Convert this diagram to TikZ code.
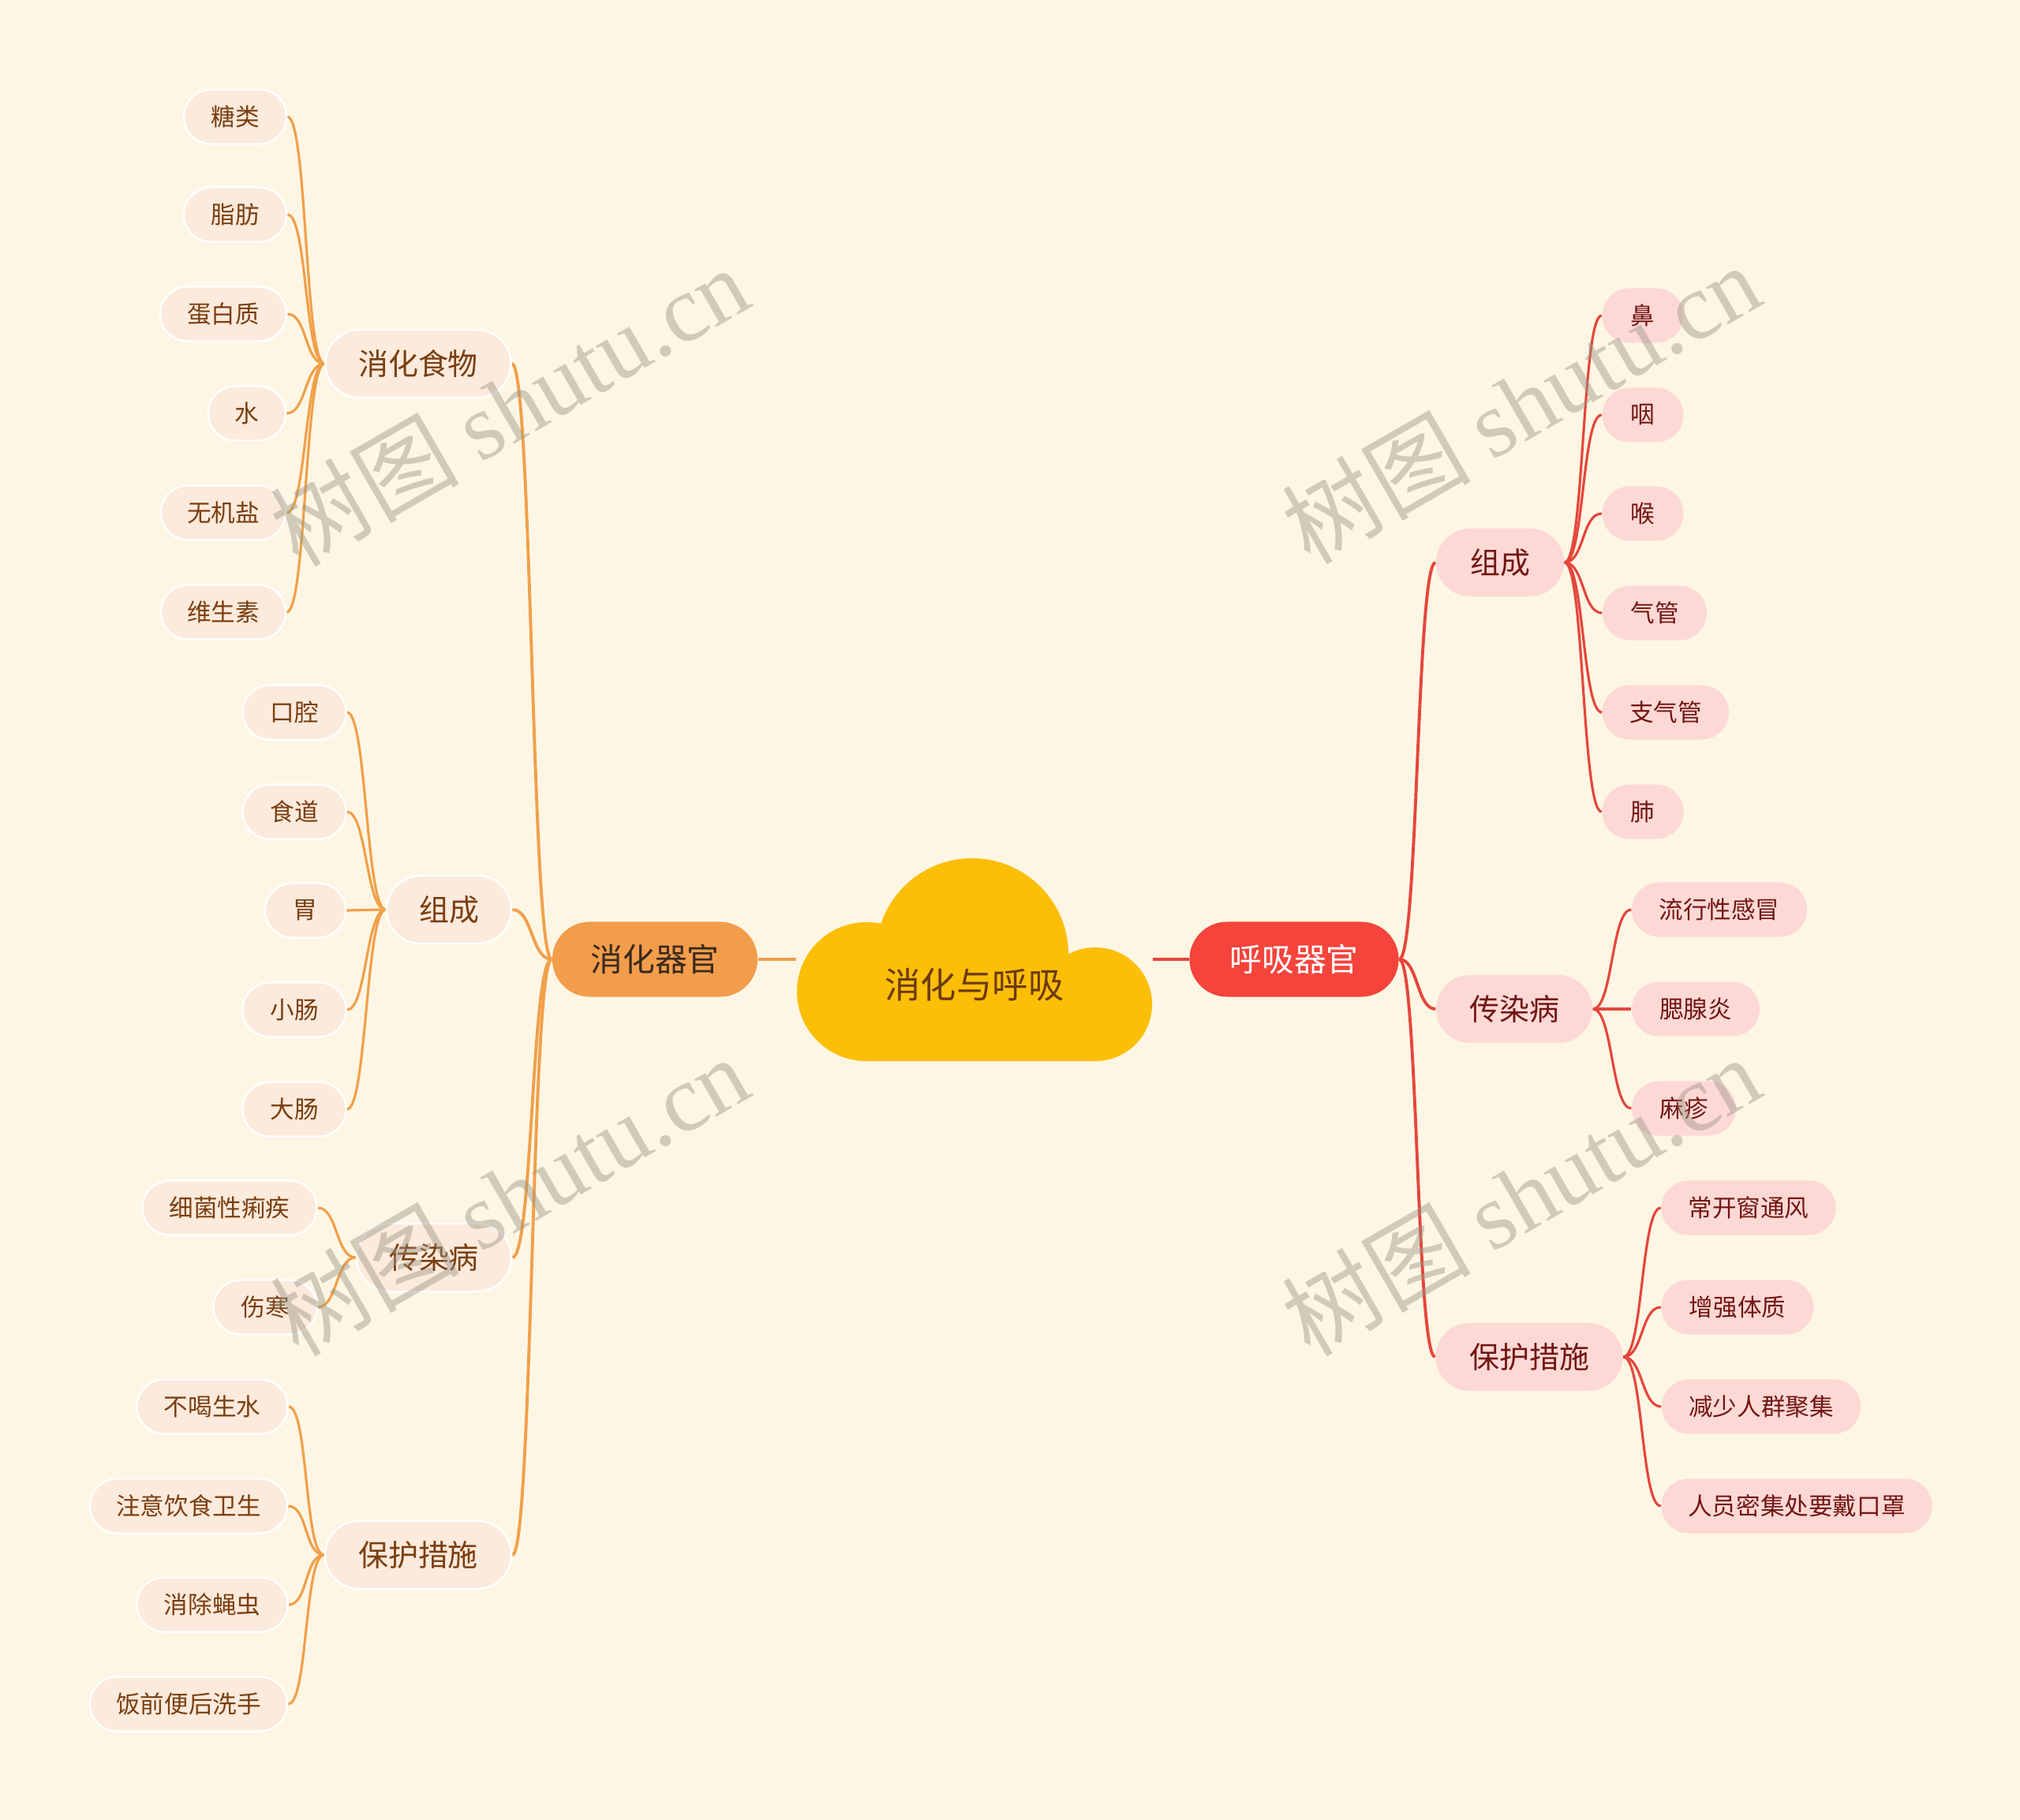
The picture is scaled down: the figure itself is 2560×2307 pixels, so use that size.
\documentclass[tikz,border=0pt]{standalone}
\usepackage{fontspec}
\setmainfont{Noto Sans CJK SC}
\newfontfamily\wmlatin{Liberation Serif}
\definecolor{bgc}{HTML}{FEF6E4}
\definecolor{cloudc}{HTML}{FCBE07}
\definecolor{roottxt}{HTML}{6B3A10}
\definecolor{corange}{HTML}{F0A04A}
\definecolor{cred}{HTML}{E5463C}
\definecolor{l1orange}{HTML}{F29D4C}
\definecolor{l1red}{HTML}{F4443B}
\definecolor{peach}{HTML}{FCEADC}
\definecolor{pinkf}{HTML}{FDD9D6}
\definecolor{brownt}{HTML}{7A3E10}
\definecolor{redt}{HTML}{721612}
\definecolor{darkt}{HTML}{3A2A1C}
\definecolor{wmc}{HTML}{9A9584}
\pgfdeclarelayer{bg}
\pgfsetlayers{bg,main}
\newcommand\leftcon[2]{\draw[ocon] (#1.west) .. controls +(-25,0) and +(25,0) .. (#2.east);}
\newcommand\rightcon[2]{\draw[rcon] (#1.east) .. controls +(25,0) and +(-25,0) .. (#2.west);}
\begin{document}
\begin{tikzpicture}[x=0.01cm,y=-0.01cm,
  lbox/.style={rectangle, inner sep=0pt, fill=peach, draw=white, line width=0.7pt, text=brownt},
  rbox/.style={rectangle, inner sep=0pt, fill=pinkf, draw=none, text=redt},
  lthree/.style={minimum height=0.69cm, rounded corners=0.345cm, font=\fontsize{8.7}{10}\selectfont},
  ltwo/.style={minimum height=0.86cm, rounded corners=0.43cm, font=\fontsize{10.8}{13}\selectfont},
  lone/.style={rectangle, inner sep=0pt, minimum height=0.95cm, rounded corners=0.475cm, font=\fontsize{11.6}{14}\selectfont},
  ocon/.style={draw=corange, line width=0.9pt},
  rcon/.style={draw=cred, line width=0.9pt},
  ocon1/.style={draw=corange, line width=1.1pt},
  rcon1/.style={draw=cred, line width=1.1pt},
  wm/.style={text=wmc, text opacity=0.45, font=\fontsize{34}{40}\selectfont, rotate=30, inner sep=0pt}
]
\useasboundingbox (0,0) rectangle (2560,2307);
\begin{pgfonlayer}{bg}
\fill[bgc] (0,0) rectangle (2560,2307);
\end{pgfonlayer}

% cloud
\fill[cloudc] (1232,1210) circle (1.22cm);
\fill[cloudc] (1098,1257) circle (0.88cm);
\fill[cloudc] (1388,1273) circle (0.72cm);
\fill[cloudc] (1098,1215) rectangle (1388,1345);
\node[minimum width=4.5cm, minimum height=2.57cm, inner sep=0pt] (root) at (1235,1216) {};
\node[text=roottxt, font=\fontsize{12.9}{15}\selectfont] (roottext) at (1235,1248) {消化与呼吸};

% level 1
\node[lone, fill=l1orange, text=darkt, minimum width=2.60cm] (dig) at (830,1216) {消化器官};
\node[lone, fill=l1red, text=white, minimum width=2.65cm] (res) at (1640,1216) {呼吸器官};

% left level 2
\node[lbox, ltwo, minimum width=2.35cm] (food) at (530,461) {消化食物};
\node[lbox, ltwo, minimum width=1.58cm] (lzc) at (569,1153) {组成};
\node[lbox, ltwo, minimum width=1.96cm] (lcr) at (550,1594) {传染病};
\node[lbox, ltwo, minimum width=2.36cm] (lbh) at (530,1971) {保护措施};

% left level 3
\node[lbox, lthree, minimum width=1.30cm] (f1) at (298,148) {糖类};
\node[lbox, lthree, minimum width=1.30cm] (f2) at (298,272) {脂肪};
\node[lbox, lthree, minimum width=1.60cm] (f3) at (283,398) {蛋白质};
\node[lbox, lthree, minimum width=0.98cm] (f4) at (313,524) {水};
\node[lbox, lthree, minimum width=1.58cm] (f5) at (283,650) {无机盐};
\node[lbox, lthree, minimum width=1.58cm] (f6) at (283,776) {维生素};

\node[lbox, lthree, minimum width=1.31cm] (z1) at (373,903) {口腔};
\node[lbox, lthree, minimum width=1.31cm] (z2) at (373,1029) {食道};
\node[lbox, lthree, minimum width=1.02cm] (z3) at (387,1154) {胃};
\node[lbox, lthree, minimum width=1.31cm] (z4) at (373,1280) {小肠};
\node[lbox, lthree, minimum width=1.31cm] (z5) at (373,1406) {大肠};

\node[lbox, lthree, minimum width=2.21cm] (c1) at (291,1531) {细菌性痢疾};
\node[lbox, lthree, minimum width=1.31cm] (c2) at (336,1657) {伤寒};

\node[lbox, lthree, minimum width=1.91cm] (b1) at (269,1783) {不喝生水};
\node[lbox, lthree, minimum width=2.50cm] (b2) at (239,1909) {注意饮食卫生};
\node[lbox, lthree, minimum width=1.91cm] (b3) at (269,2034) {消除蝇虫};
\node[lbox, lthree, minimum width=2.50cm] (b4) at (239,2160) {饭前便后洗手};

% right level 2
\node[rbox, ltwo, minimum width=1.62cm] (rzc) at (1901,713) {组成};
\node[rbox, ltwo, minimum width=1.98cm] (rcr) at (1919,1279) {传染病};
\node[rbox, ltwo, minimum width=2.37cm] (rbh) at (1938,1720) {保护措施};

% right level 3
\node[rbox, lthree, minimum width=1.03cm] (r1) at (2082,400) {鼻};
\node[rbox, lthree, minimum width=1.03cm] (r2) at (2082,526) {咽};
\node[rbox, lthree, minimum width=1.03cm] (r3) at (2082,651) {喉};
\node[rbox, lthree, minimum width=1.32cm] (r4) at (2097,777) {气管};
\node[rbox, lthree, minimum width=1.60cm] (r5) at (2111,903) {支气管};
\node[rbox, lthree, minimum width=1.03cm] (r6) at (2082,1029) {肺};

\node[rbox, lthree, minimum width=2.22cm] (s1) at (2179,1153) {流行性感冒};
\node[rbox, lthree, minimum width=1.62cm] (s2) at (2149,1279) {腮腺炎};
\node[rbox, lthree, minimum width=1.32cm] (s3) at (2134,1405) {麻疹};

\node[rbox, lthree, minimum width=2.21cm] (p1) at (2216,1531) {常开窗通风};
\node[rbox, lthree, minimum width=1.93cm] (p2) at (2202,1657) {增强体质};
\node[rbox, lthree, minimum width=2.52cm] (p3) at (2232,1783) {减少人群聚集};
\node[rbox, lthree, minimum width=3.43cm] (p4) at (2277,1909) {人员密集处要戴口罩};

% connectors
\begin{pgfonlayer}{bg}
\draw[draw=corange, line width=1.4pt] (dig.east) -- (root.west);
\draw[draw=cred, line width=1.4pt] (root.east) -- (res.west);

\draw[ocon1] (dig.west) .. controls +(-26,0) and +(26,0) .. (food.east);
\draw[ocon1] (dig.west) .. controls +(-26,0) and +(26,0) .. (lzc.east);
\draw[ocon1] (dig.west) .. controls +(-26,0) and +(26,0) .. (lcr.east);
\draw[ocon1] (dig.west) .. controls +(-26,0) and +(26,0) .. (lbh.east);

\leftcon{food}{f1}\leftcon{food}{f2}\leftcon{food}{f3}
\leftcon{food}{f4}\leftcon{food}{f5}\leftcon{food}{f6}
\leftcon{lzc}{z1}\leftcon{lzc}{z2}\leftcon{lzc}{z3}\leftcon{lzc}{z4}\leftcon{lzc}{z5}
\leftcon{lcr}{c1}\leftcon{lcr}{c2}
\leftcon{lbh}{b1}\leftcon{lbh}{b2}\leftcon{lbh}{b3}\leftcon{lbh}{b4}

\draw[rcon1] (res.east) .. controls +(24,0) and +(-24,0) .. (rzc.west);
\draw[rcon1] (res.east) .. controls +(24,0) and +(-24,0) .. (rcr.west);
\draw[rcon1] (res.east) .. controls +(24,0) and +(-24,0) .. (rbh.west);

\rightcon{rzc}{r1}\rightcon{rzc}{r2}\rightcon{rzc}{r3}
\rightcon{rzc}{r4}\rightcon{rzc}{r5}\rightcon{rzc}{r6}
\rightcon{rcr}{s1}\rightcon{rcr}{s2}\rightcon{rcr}{s3}
\rightcon{rbh}{p1}\rightcon{rbh}{p2}\rightcon{rbh}{p3}\rightcon{rbh}{p4}
\end{pgfonlayer}

% watermarks
\node[wm] (wm1) at (645,514) {树图 {\wmlatin shutu.cn}};
\node[wm] (wm2) at (645,1515) {树图 {\wmlatin shutu.cn}};
\node[wm] (wm3) at (1927,511) {树图 {\wmlatin shutu.cn}};
\node[wm] (wm4) at (1927,1515) {树图 {\wmlatin shutu.cn}};
\end{tikzpicture}
\end{document}
